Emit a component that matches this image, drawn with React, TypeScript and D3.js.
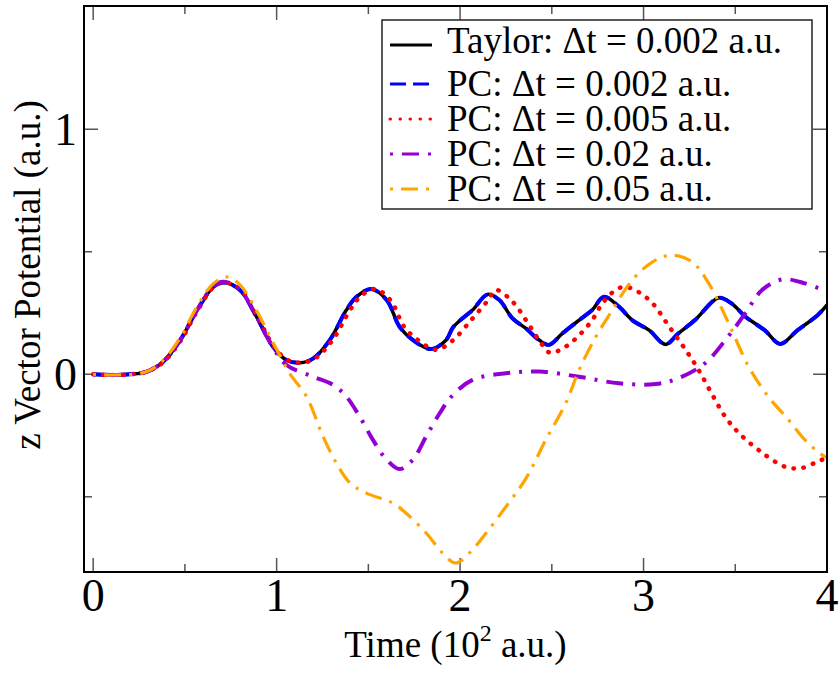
import React from 'react';
import * as d3 from 'd3';

type Pt = [number, number];

// tick positions
const xMajor = [0, 1, 2, 3, 4];
const xMinor = [0.5, 1.5, 2.5, 3.5];
const yMajor = [0, 1];
const yMinor = [-0.5, 0.5];

// series: [time (10^2 a.u.), value]
const taylor: Pt[] = [
  [0, 0], [0.1, -0.003], [0.2, 0], [0.29, 0.01], [0.38, 0.05], [0.475, 0.14], [0.565, 0.26],
  [0.655, 0.357], [0.71, 0.375], [0.8, 0.344], [0.89, 0.235], [0.98, 0.113], [1.054, 0.058],
  [1.127, 0.047], [1.2, 0.065], [1.29, 0.14], [1.38, 0.262], [1.435, 0.316], [1.516, 0.348],
  [1.6, 0.303], [1.67, 0.194], [1.742, 0.14], [1.842, 0.103], [1.924, 0.14], [1.96, 0.19],
  [2.0, 0.22], [2.068, 0.262], [2.15, 0.326], [2.214, 0.303], [2.286, 0.228], [2.359, 0.187],
  [2.43, 0.14], [2.485, 0.12], [2.558, 0.167], [2.649, 0.221], [2.72, 0.262], [2.784, 0.316],
  [2.866, 0.276], [2.938, 0.221], [3.03, 0.18], [3.12, 0.122], [3.19, 0.167], [3.28, 0.221],
  [3.41, 0.312], [3.48, 0.289], [3.555, 0.235], [3.66, 0.18], [3.745, 0.124], [3.84, 0.18],
  [3.95, 0.242], [4.0, 0.283],
];
// PC with the same step lies on top of the Taylor curve
const pc002: Pt[] = taylor.map(d => [d[0], d[1]] as Pt);
const pc005: Pt[] = [
  [0, 0], [0.1, -0.003], [0.2, 0], [0.29, 0.01], [0.38, 0.048], [0.475, 0.135], [0.565, 0.255],
  [0.655, 0.355], [0.715, 0.375], [0.805, 0.344], [0.895, 0.235], [0.985, 0.113], [1.06, 0.058],
  [1.135, 0.047], [1.21, 0.065], [1.305, 0.14], [1.4, 0.262], [1.455, 0.316], [1.535, 0.348],
  [1.62, 0.303], [1.695, 0.194], [1.77, 0.14], [1.87, 0.1], [1.955, 0.135], [2.068, 0.228],
  [2.15, 0.3], [2.195, 0.344], [2.286, 0.296], [2.359, 0.221], [2.43, 0.14], [2.49, 0.088],
  [2.576, 0.113], [2.65, 0.16], [2.72, 0.221], [2.775, 0.289], [2.848, 0.344], [2.9, 0.357],
  [2.97, 0.337], [3.05, 0.289], [3.14, 0.194], [3.23, 0.099], [3.3, 0.018], [3.37, -0.077],
  [3.445, -0.173], [3.52, -0.24], [3.627, -0.309], [3.77, -0.377], [3.86, -0.383],
  [3.95, -0.356], [4.0, -0.34],
];
const pc02: Pt[] = [
  [0, 0], [0.1, -0.003], [0.2, 0], [0.29, 0.01], [0.38, 0.05], [0.475, 0.14], [0.565, 0.26],
  [0.655, 0.36], [0.71, 0.378], [0.8, 0.345], [0.89, 0.235], [0.98, 0.11], [1.054, 0.038],
  [1.2, -0.01], [1.31, -0.044], [1.38, -0.091], [1.453, -0.173], [1.525, -0.268], [1.6, -0.349],
  [1.67, -0.387], [1.742, -0.349], [1.815, -0.254], [1.888, -0.16], [1.96, -0.085],
  [2.068, -0.023], [2.25, 0.004], [2.43, 0.011], [2.649, -0.01], [2.866, -0.037],
  [3.065, -0.04], [3.19, -0.016], [3.335, 0.045], [3.46, 0.153], [3.555, 0.249], [3.646, 0.344],
  [3.755, 0.387], [3.88, 0.371], [4.0, 0.337],
];
const pc05: Pt[] = [
  [0, 0], [0.1, -0.003], [0.29, 0.01], [0.38, 0.055], [0.475, 0.15], [0.565, 0.275],
  [0.655, 0.37], [0.73, 0.397], [0.8, 0.365], [0.89, 0.26], [0.98, 0.13], [1.03, 0.06],
  [1.07, 0.004], [1.163, -0.091], [1.253, -0.254], [1.326, -0.363], [1.4, -0.444],
  [1.489, -0.485], [1.634, -0.526], [1.706, -0.567], [1.815, -0.648], [1.905, -0.73],
  [1.975, -0.77], [2.05, -0.73], [2.15, -0.64], [2.26, -0.53], [2.36, -0.424], [2.467, -0.268],
  [2.576, -0.118], [2.649, 0.018], [2.74, 0.153], [2.83, 0.262], [2.938, 0.384], [3.05, 0.459],
  [3.155, 0.486], [3.264, 0.459], [3.355, 0.371], [3.464, 0.208], [3.573, 0.031],
  [3.68, -0.091], [3.79, -0.186], [3.88, -0.268], [3.96, -0.322], [4.0, -0.34],
];

const seriesLabels = [
  'Taylor: \u0394t = 0.002 a.u.',
  'PC: \u0394t = 0.002 a.u.',
  'PC: \u0394t = 0.005 a.u.',
  'PC: \u0394t = 0.02 a.u.',
  'PC: \u0394t = 0.05 a.u.',
];
const seriesData = [taylor, pc002, pc005, pc02, pc05];

const styles = [
  { color: '#000000', width: 3.5, dash: 'none', cap: 'butt' },
  { color: '#0000ff', width: 4, dash: '16,7', cap: 'butt' },
  { color: '#ff0000', width: 4.5, dash: '0.5,9.5', cap: 'round' },
  { color: '#9400d3', width: 4, dash: '3,9,17,9', cap: 'butt' },
  { color: '#ffa500', width: 3.2, dash: '3,8,17,8', cap: 'butt' },
];

const W = 840;
const H = 675;
const left = 84;
const right = 827;
const top = 6;
const bottom = 572;
const font = '"Liberation Serif", "DejaVu Serif", "Times New Roman", serif';

export default function App() {
  const x = d3.scaleLinear().domain([-0.05, 4]).range([left, right]);
  const y = d3.scaleLinear().domain([-0.807, 1.503]).range([bottom, top]);
  const line = d3.line<Pt>()
    .x(d => x(d[0]))
    .y(d => y(d[1]))
    .curve(d3.curveCatmullRom.alpha(0.5));

  const tickStroke = '#555';

  return (
    <div style={{ position: 'absolute', left: 0, top: 0 }}>
      <svg width={W} height={H} style={{ display: 'block', background: '#fff' }}>
        <defs>
          <clipPath id="plotArea">
            <rect x={left} y={top} width={right - left} height={bottom - top} />
          </clipPath>
        </defs>

        {/* ticks, mirrored on all four sides */}
        <g stroke={tickStroke} strokeWidth={1.5}>
          {xMajor.map(t => (
            <g key={'xM' + t}>
              <line x1={x(t)} x2={x(t)} y1={bottom} y2={bottom - 14} />
              <line x1={x(t)} x2={x(t)} y1={top} y2={top + 14} />
            </g>
          ))}
          {xMinor.map(t => (
            <g key={'xm' + t}>
              <line x1={x(t)} x2={x(t)} y1={bottom} y2={bottom - 8} />
              <line x1={x(t)} x2={x(t)} y1={top} y2={top + 8} />
            </g>
          ))}
          {yMajor.map(t => (
            <g key={'yM' + t}>
              <line x1={left} x2={left + 14} y1={y(t)} y2={y(t)} />
              <line x1={right} x2={right - 14} y1={y(t)} y2={y(t)} />
            </g>
          ))}
          {yMinor.map(t => (
            <g key={'ym' + t}>
              <line x1={left} x2={left + 8} y1={y(t)} y2={y(t)} />
              <line x1={right} x2={right - 8} y1={y(t)} y2={y(t)} />
            </g>
          ))}
        </g>

        {/* curves */}
        <g clipPath="url(#plotArea)" fill="none">
          {seriesData.map((data, i) => (
            <path
              key={i}
              d={line(data) || ''}
              stroke={styles[i].color}
              strokeWidth={styles[i].width}
              strokeDasharray={styles[i].dash}
              strokeLinecap={styles[i].cap as any}
              strokeLinejoin="round"
            />
          ))}
        </g>

        {/* frame */}
        <rect x={left} y={top} width={right - left} height={bottom - top}
          fill="none" stroke="#000" strokeWidth={2} />

        {/* tick labels */}
        <g fontFamily={font} fontSize={46} fill="#000">
          {xMajor.map(t => (
            <text key={'xl' + t} x={x(t)} y={611} textAnchor="middle">{t}</text>
          ))}
          {yMajor.map(t => (
            <text key={'yl' + t} x={77} y={y(t) + 16} textAnchor="end">{t}</text>
          ))}
        </g>

        {/* axis titles */}
        <text x={(left + right) / 2} y={657} textAnchor="middle" fontFamily={font} fontSize={37}>
          Time (10<tspan fontSize={24} dy={-16}>2</tspan><tspan dy={16}> a.u.)</tspan>
        </text>
        <text transform={`translate(40, 275) rotate(-90)`} textAnchor="middle"
          fontFamily={font} fontSize={37}>
          z Vector Potential (a.u.)
        </text>

        {/* legend */}
        <rect x={382} y={20} width={430} height={189} fill="#fff" stroke="#222" strokeWidth={1.5} />
        {seriesLabels.map((label, i) => {
          const base = i === 0 ? 53 : 96 + 35 * (i - 1);
          const ly = i === 0 ? 45 : base - 12;
          return (
            <g key={'lg' + i}>
              <line x1={390} x2={432} y1={ly} y2={ly}
                stroke={styles[i].color} strokeWidth={3}
                strokeDasharray={styles[i].dash}
                strokeLinecap={styles[i].cap as any} />
              <text x={447} y={base} fontFamily={font} fontSize={37}>{label}</text>
            </g>
          );
        })}
      </svg>
    </div>
  );
}
